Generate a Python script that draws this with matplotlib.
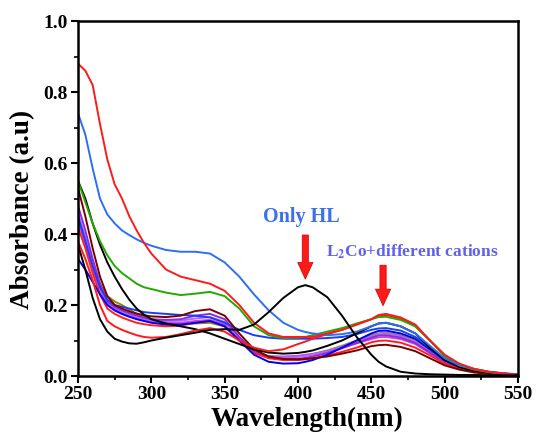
"""UV-vis titration: HL alone vs. L2Co with different cations."""

import matplotlib
matplotlib.use("Agg")
import matplotlib.pyplot as plt
from matplotlib.ticker import MultipleLocator

plt.rcParams["font.family"] = ["Liberation Serif", "DejaVu Serif"]
plt.rcParams["font.weight"] = "bold"
plt.rcParams["mathtext.fontset"] = "stix"

wavelength = [250, 255, 260, 265, 270, 275, 280, 285, 290, 295, 300,
              310, 320, 330, 340, 350, 360, 370, 380, 390, 400, 405,
              410, 420, 430, 440, 450, 455,
              460, 470, 480, 490, 500, 510, 520, 530, 540, 550]

# free ligand
only_hl = [0.37, 0.30, 0.22, 0.16, 0.125, 0.105, 0.097, 0.092, 0.091, 0.095, 0.10,
           0.108, 0.115, 0.122, 0.13, 0.132, 0.13, 0.145, 0.18, 0.22, 0.25, 0.256,
           0.25, 0.222, 0.17, 0.11, 0.06, 0.04,
           0.027, 0.012, 0.007, 0.005, 0.004, 0.003, 0.003, 0.002, 0.002, 0.002]

# complex + cations
red_1 = [0.88, 0.86, 0.82, 0.71, 0.61, 0.54, 0.50, 0.45, 0.41, 0.375, 0.345,
         0.30, 0.28, 0.27, 0.26, 0.24, 0.20, 0.15, 0.12, 0.11, 0.11, 0.11,
         0.11, 0.12, 0.13, 0.145, 0.16, 0.172,
         0.175, 0.165, 0.145, 0.10, 0.06, 0.035, 0.02, 0.012, 0.007, 0.004]
blue_1 = [0.74, 0.68, 0.585, 0.50, 0.455, 0.43, 0.41, 0.397, 0.385, 0.375, 0.367,
          0.355, 0.35, 0.35, 0.345, 0.32, 0.28, 0.23, 0.185, 0.15, 0.13, 0.124,
          0.12, 0.115, 0.118, 0.125, 0.14, 0.148,
          0.15, 0.14, 0.12, 0.085, 0.05, 0.03, 0.02, 0.012, 0.008, 0.005]
green_1 = [0.55, 0.49, 0.43, 0.38, 0.34, 0.31, 0.29, 0.275, 0.26, 0.25, 0.245,
           0.235, 0.228, 0.232, 0.237, 0.225, 0.19, 0.14, 0.115, 0.107, 0.108, 0.11,
           0.115, 0.125, 0.135, 0.148, 0.16, 0.166,
           0.167, 0.158, 0.14, 0.10, 0.055, 0.03, 0.018, 0.011, 0.006, 0.003]
black_2 = [0.55, 0.50, 0.43, 0.37, 0.32, 0.28, 0.245, 0.215, 0.19, 0.173, 0.16,
           0.148, 0.14, 0.132, 0.12, 0.105, 0.09, 0.075, 0.066, 0.063, 0.065, 0.068,
           0.072, 0.085, 0.10, 0.12, 0.14, 0.148,
           0.15, 0.14, 0.12, 0.08, 0.045, 0.025, 0.015, 0.01, 0.006, 0.003]
maroon_1 = [0.53, 0.45, 0.36, 0.28, 0.225, 0.20, 0.19, 0.182, 0.176, 0.171, 0.168,
            0.166, 0.17, 0.183, 0.188, 0.17, 0.12, 0.075, 0.055, 0.048, 0.047, 0.048,
            0.05, 0.055, 0.063, 0.072, 0.084, 0.087,
            0.088, 0.082, 0.07, 0.05, 0.03, 0.018, 0.01, 0.006, 0.004, 0.002]
blue_2 = [0.33, 0.30, 0.265, 0.23, 0.20, 0.185, 0.175, 0.167, 0.16, 0.155, 0.15,
          0.145, 0.145, 0.15, 0.155, 0.14, 0.10, 0.06, 0.04, 0.035, 0.036, 0.04,
          0.045, 0.06, 0.08, 0.10, 0.12, 0.127,
          0.128, 0.12, 0.105, 0.075, 0.045, 0.028, 0.018, 0.011, 0.007, 0.004]
blue_3 = [0.45, 0.38, 0.31, 0.25, 0.215, 0.20, 0.195, 0.19, 0.185, 0.18, 0.178,
          0.175, 0.172, 0.17, 0.165, 0.15, 0.13, 0.115, 0.108, 0.105, 0.105, 0.105,
          0.105, 0.107, 0.11, 0.118, 0.13, 0.134,
          0.135, 0.128, 0.11, 0.08, 0.048, 0.028, 0.018, 0.011, 0.007, 0.004]
red_2 = [0.38, 0.33, 0.27, 0.20, 0.155, 0.14, 0.13, 0.122, 0.115, 0.11, 0.108,
         0.11, 0.118, 0.128, 0.135, 0.125, 0.10, 0.08, 0.07, 0.075, 0.09, 0.097,
         0.105, 0.118, 0.13, 0.145, 0.16, 0.17,
         0.172, 0.162, 0.14, 0.10, 0.058, 0.032, 0.02, 0.012, 0.007, 0.004]
red_3 = [0.42, 0.36, 0.29, 0.23, 0.19, 0.175, 0.165, 0.157, 0.15, 0.146, 0.143,
         0.14, 0.142, 0.15, 0.155, 0.14, 0.10, 0.065, 0.05, 0.045, 0.045, 0.047,
         0.05, 0.058, 0.068, 0.08, 0.095, 0.099,
         0.10, 0.094, 0.08, 0.058, 0.035, 0.02, 0.012, 0.008, 0.005, 0.003]
purple_1 = [0.48, 0.41, 0.33, 0.26, 0.21, 0.195, 0.185, 0.177, 0.17, 0.164, 0.16,
            0.158, 0.16, 0.17, 0.175, 0.16, 0.11, 0.07, 0.052, 0.047, 0.048, 0.051,
            0.055, 0.065, 0.078, 0.093, 0.108, 0.114,
            0.115, 0.108, 0.093, 0.066, 0.04, 0.024, 0.014, 0.009, 0.005, 0.003]
purple_2 = [0.46, 0.39, 0.32, 0.255, 0.205, 0.19, 0.18, 0.172, 0.165, 0.16, 0.157,
            0.155, 0.156, 0.162, 0.166, 0.152, 0.105, 0.068, 0.055, 0.052, 0.054, 0.057,
            0.06, 0.07, 0.083, 0.098, 0.112, 0.118,
            0.12, 0.112, 0.096, 0.068, 0.041, 0.024, 0.014, 0.009, 0.005, 0.003]
magenta_1 = [0.44, 0.37, 0.30, 0.245, 0.20, 0.185, 0.175, 0.168, 0.162, 0.157, 0.153,
             0.15, 0.15, 0.155, 0.158, 0.145, 0.10, 0.066, 0.056, 0.055, 0.057, 0.06,
             0.062, 0.07, 0.08, 0.092, 0.104, 0.109,
             0.11, 0.104, 0.09, 0.064, 0.039, 0.023, 0.014, 0.009, 0.005, 0.003]
olive_1 = [0.45, 0.38, 0.31, 0.26, 0.225, 0.21, 0.20, 0.187, 0.175, 0.167, 0.16,
           0.15, 0.145, 0.148, 0.15, 0.14, 0.105, 0.07, 0.055, 0.052, 0.055, 0.058,
           0.062, 0.072, 0.085, 0.10, 0.115, 0.12,
           0.122, 0.115, 0.10, 0.07, 0.042, 0.025, 0.015, 0.009, 0.005, 0.003]

curves = [
    (olive_1, "#8c8c00"),
    (magenta_1, "#cc44dd"),
    (purple_2, "#b066ff"),
    (purple_1, "#8a2be2"),
    (red_3, "#ff2020"),
    (blue_2, "#0000ee"),
    (blue_3, "#1a3cff"),
    (maroon_1, "#7a0000"),
    (black_2, "#000000"),
    (red_2, "#ff1a1a"),
    (green_1, "#22aa00"),
    (blue_1, "#2e6ef5"),
    (red_1, "#ff1a1a"),
    (only_hl, "#000000"),
]

fig = plt.figure(figsize=(5.36, 4.34), dpi=100)
ax = fig.add_axes([0.1455, 0.1336, 0.8209, 0.818])

for values, color in curves:
    ax.plot(wavelength, values, color=color, linewidth=1.4)

ax.set_xlim(250, 550)
ax.set_ylim(0.0, 1.0)
ax.xaxis.set_major_locator(MultipleLocator(50))
ax.xaxis.set_minor_locator(MultipleLocator(25))
ax.yaxis.set_major_locator(MultipleLocator(0.2))
ax.yaxis.set_minor_locator(MultipleLocator(0.1))
ax.tick_params(which="major", direction="out", length=5, width=1.5,
               labelsize=14, pad=2.5)
ax.tick_params(which="minor", direction="out", length=3, width=1.2)
for spine in ax.spines.values():
    spine.set_linewidth(1.8)
ax.set_xticks([250, 300, 350, 400, 450, 500, 550])
ax.set_yticks([0.0, 0.2, 0.4, 0.6, 0.8, 1.0])
ax.set_yticklabels(["0.0", "0.2", "0.4", "0.6", "0.8", "1.0"])

ax.set_xlabel("Wavelength(nm)", fontsize=19.5, fontweight="bold")
ax.set_ylabel("Absorbance (a.u)", fontsize=19.5, fontweight="bold")
ax.xaxis.set_label_coords(0.52, -0.088)
ax.yaxis.set_label_coords(-0.097, 0.47)

arrow_style = dict(arrowstyle="simple,head_width=1.1,head_length=1.2,tail_width=0.45",
                   color="#ff1a1a", ec="#cc0000", lw=0.5)
ax.annotate("", xy=(405, 0.265), xytext=(405, 0.405), arrowprops=arrow_style)
ax.annotate("", xy=(458, 0.19), xytext=(458, 0.32), arrowprops=arrow_style)

ax.text(402, 0.448, "Only HL", color="#3b6ef0", fontsize=14.5,
        fontweight="bold", ha="center", va="center")
ax.text(478, 0.35, r"L$_\mathbf{2}$Co+different cations", color="#6060f0",
        fontsize=12.5, fontweight="bold", ha="center", va="center")

fig.savefig("out.png", dpi=100)
